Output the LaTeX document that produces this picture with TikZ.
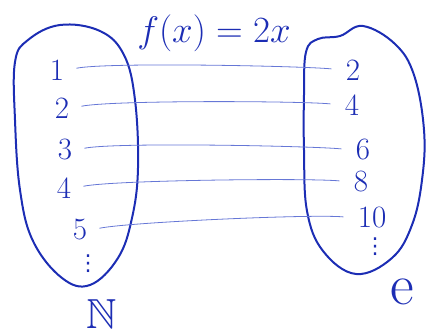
\documentclass[tikz,border=0pt]{standalone}
\usepackage{fix-cm}
\usepackage{amsmath,amssymb}
\usepackage{fontspec}
\newfontfamily\dotsfont{DejaVu Sans}
\usepackage{tikz}
\usetikzlibrary{positioning,calc}
\usepackage{xcolor}
\definecolor{PenBlue}{HTML}{1C2DB4}
\definecolor{InkLight}{HTML}{6677D6}

\begin{document}
\begin{tikzpicture}[x=1pt,y=-1pt,
  every node/.style={font=\fontsize{31}{33}\selectfont,text=PenBlue},
  setline/.style={draw=PenBlue,line width=2pt},
  dotsnode/.style={font=\dotsfont\fontsize{22}{24}\selectfont,inner sep=0pt},
  mapline/.style={draw=InkLight,line width=0.8pt,shorten <=9pt,shorten >=11pt}]
\useasboundingbox (0,0) rectangle (426,336);
% the two sets
\draw[setline] plot[smooth cycle,tension=0.65] coordinates {(15,62) (28,40) (60,25) (100,31) (124,55) (135,100) (138,168) (132,218) (118,258) (90,285) (62,278) (33,241) (20,190) (15,120)};
\draw[setline] plot[smooth cycle,tension=0.65] coordinates {(306,52) (318,39) (340,36) (363,26) (395,44) (414,75) (424,130) (422,180) (412,225) (392,258) (356,274) (323,251) (307,211) (304,150) (304,95)};
% domain
\node (n1) at (57,70) {1};
\node (n2) at (62,108) {2};
\node (n3) at (65,150) {3};
\node (n4) at (64,188) {4};
\node (n5) at (80,230) {5};
\node[dotsnode] (ndots) at (88,264) {⋮};
% codomain
\node (m1) at (353,70) {2};
\node (m2) at (352,105) {4};
\node (m3) at (363,150) {6};
\node (m4) at (361,182) {8};
\node (m5) at (372,218) {10};
\node[dotsnode] (mdots) at (375,247) {⋮};
% names
\node (dom) at (102,314) {\fontsize{42}{44}\selectfont$\mathbb{N}$};
\node (cod) at (402,292) {\fontsize{58}{60}\selectfont e};
\node (rule) at (214,33) {\fontsize{37}{39}\selectfont$f(x)\;{=}\;2x$};
% the map
\draw[mapline] (n1.east) .. controls +(40,-8) and +(-40,-4) .. (m1.west);
\draw[mapline] (n2.east) .. controls +(40,-8) and +(-40,-4) .. (m2.west);
\draw[mapline] (n3.east) .. controls +(40,-8) and +(-40,-4) .. (m3.west);
\draw[mapline] (n4.east) .. controls +(40,-8) and +(-40,-4) .. (m4.west);
\draw[mapline] (n5.east) .. controls +(40,-8) and +(-40,-4) .. (m5.west);
\end{tikzpicture}
\end{document}
